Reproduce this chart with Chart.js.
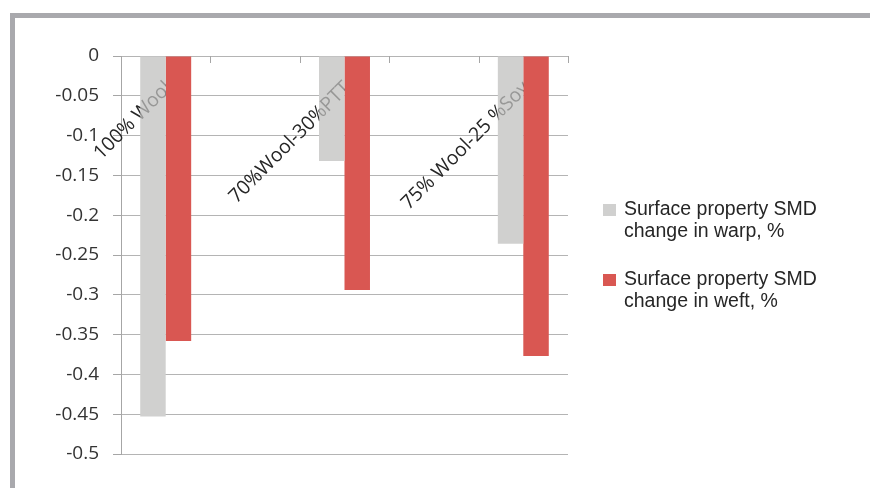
<!DOCTYPE html>
<html>
<head>
<meta charset="utf-8">
<script src="https://cdn.jsdelivr.net/npm/chart.js@4.4.1/dist/chart.umd.min.js"></script>
<style>
  html, body { margin: 0; padding: 0; background: #ffffff; }
  canvas { display: block; }
</style>
</head>
<body>
<canvas id="chart" width="870" height="488"></canvas>
<script>
// Fabric samples (empty slots keep the spacing between the groups)
const categories = ['100% Wool', '', '70%Wool-30%PTT', '', '75% Wool-25 %Soy'];

// Change of surface property SMD, %
const warpChange = [-0.453, null, -0.132, null, -0.236];
const weftChange = [-0.358, null, -0.294, null, -0.377];

const seriesNames = [
  'Surface property SMD change in warp, %',
  'Surface property SMD change in weft, %'
];

// Value axis
const yMin = -0.5;
const yMax = 0;
const yStep = 0.05;

const warpColor = '#d0d0cf';
const weftColor = '#d95752';

function drawCategoryLabels(chart, color) {
  const ctx = chart.ctx;
  const xs = chart.scales.x;
  ctx.save();
  ctx.font = '19.5px "Open Sans"';
  ctx.fillStyle = color;
  ctx.textAlign = 'right';
  ctx.textBaseline = 'middle';
  categories.forEach((label, i) => {
    if (!label) return;
    const x = xs.getPixelForValue(i);
    ctx.save();
    ctx.translate(x + 3, chart.chartArea.top + 29);
    ctx.rotate(-Math.PI / 4);
    ctx.fillText(label, 0, 0);
    ctx.restore();
  });
  ctx.restore();
}

// Frame around the chart
const framePlugin = {
  id: 'frame',
  beforeDraw(chart) {
    const ctx = chart.ctx;
    ctx.save();
    ctx.fillStyle = '#ffffff';
    ctx.fillRect(0, 0, chart.width, chart.height);
    ctx.fillStyle = '#a9a9ad';
    ctx.fillRect(10, 13, 5, chart.height - 13);
    ctx.fillRect(10, 13, chart.width - 10, 5);
    ctx.restore();
  }
};

// Category axis sits on the zero line at the top, labels run inside the plot
const categoryAxisPlugin = {
  id: 'categoryAxis',
  beforeDatasetsDraw(chart) {
    const ctx = chart.ctx;
    const xs = chart.scales.x;
    const area = chart.chartArea;
    const n = categories.length;
    const w = (area.right - area.left) / n;
    ctx.save();
    ctx.strokeStyle = '#a6a6a6';
    ctx.lineWidth = 1;
    ctx.beginPath();
    for (let i = 0; i <= n; i++) {
      const x = Math.round(area.left + i * w) + 0.5;
      ctx.moveTo(x, area.top);
      ctx.lineTo(x, area.top + 7);
    }
    ctx.stroke();
    ctx.restore();
    drawCategoryLabels(chart, '#262626');
  },
  afterDatasetsDraw(chart) {
    // text seen faintly through the grey bars
    const ctx = chart.ctx;
    const meta = chart.getDatasetMeta(0);
    ctx.save();
    ctx.beginPath();
    meta.data.forEach((el, i) => {
      if (warpChange[i] === null) return;
      const p = el.getProps(['x', 'y', 'base', 'width'], true);
      ctx.rect(p.x - p.width / 2, Math.min(p.y, p.base), p.width, Math.abs(p.base - p.y));
    });
    ctx.clip();
    drawCategoryLabels(chart, 'rgba(20,20,20,0.3)');
    ctx.restore();
  }
};

// Legend with wrapped entries on the right
const sideLegendPlugin = {
  id: 'sideLegend',
  afterDraw(chart) {
    const ctx = chart.ctx;
    const colors = [warpColor, weftColor];
    ctx.save();
    ctx.font = '19.5px "Liberation Sans", Arial, sans-serif';
    ctx.textAlign = 'left';
    ctx.textBaseline = 'alphabetic';
    const maxW = 205;
    seriesNames.forEach((name, k) => {
      const words = name.split(' ');
      const lines = [];
      let cur = '';
      words.forEach(wd => {
        const t = cur ? cur + ' ' + wd : wd;
        if (ctx.measureText(t).width > maxW && cur) { lines.push(cur); cur = wd; }
        else cur = t;
      });
      if (cur) lines.push(cur);
      const top = 201 + k * 70;
      ctx.fillStyle = colors[k];
      ctx.fillRect(603, top + 3, 13, 12);
      ctx.fillStyle = '#262626';
      lines.forEach((ln, j) => ctx.fillText(ln, 624, top + 14 + j * 21.5));
    });
    ctx.restore();
  }
};

new Chart(document.getElementById('chart'), {
  type: 'bar',
  data: {
    labels: categories,
    datasets: [
      {
        label: seriesNames[0],
        data: warpChange,
        backgroundColor: warpColor,
        borderWidth: 0
      },
      {
        label: seriesNames[1],
        data: weftChange,
        backgroundColor: weftColor,
        borderWidth: 0
      }
    ]
  },
  options: {
    responsive: false,
    animation: false,
    devicePixelRatio: 1,
    layout: { padding: { left: 0, top: 56, right: 302, bottom: 34 } },
    datasets: {
      bar: { barPercentage: 1, categoryPercentage: 0.57 }
    },
    plugins: {
      legend: { display: false },
      tooltip: { enabled: false },
      title: { display: false }
    },
    scales: {
      x: {
        display: false,
        offset: true
      },
      y: {
        min: yMin,
        max: yMax,
        afterFit(scale) { scale.width = 121; },
        border: { display: true, color: '#a6a6a6', width: 1 },
        grid: {
          color: '#b4b4b4',
          lineWidth: 1,
          drawTicks: true,
          tickLength: 8,
          tickColor: '#a6a6a6'
        },
        ticks: {
          stepSize: yStep,
          padding: 14,
          color: '#333333',
          font: { family: '"Open Sans"', size: 19 },
          callback: v => String(Number(v.toFixed(2)))
        }
      }
    }
  },
  plugins: [framePlugin, categoryAxisPlugin, sideLegendPlugin]
});
</script>
</body>
</html>
